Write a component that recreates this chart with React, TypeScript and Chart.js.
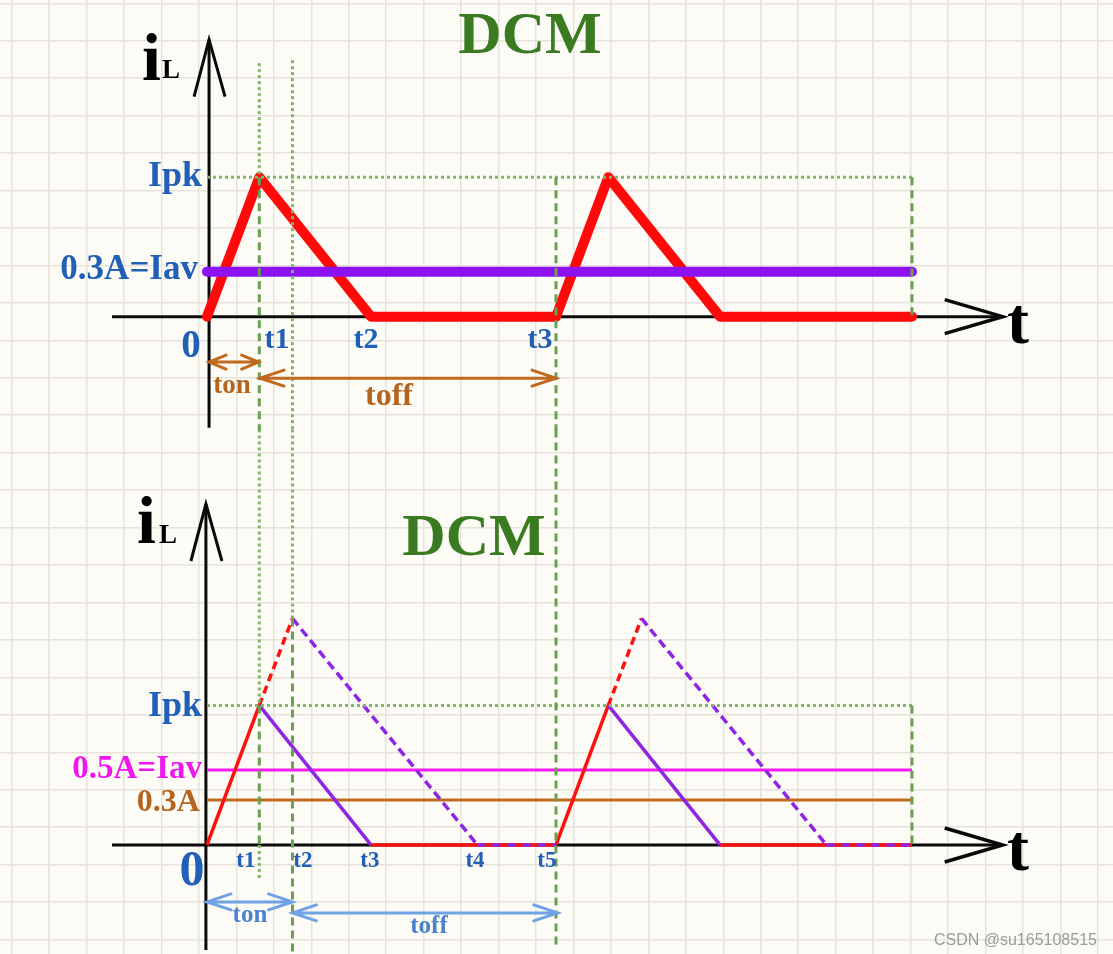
import React, { useEffect, useRef } from 'react';
import { Chart, registerables } from 'chart.js';

Chart.register(...registerables);

// ---------- axis ranges (time in normalised units, period = 10; current in A) ----------
const X_RANGE = [-5.93, 25.96];
const Y_TOP_RANGE = [-4.249, 2.111];
const Y_BOT_RANGE = [-0.727, 5.633];
const GRID_X_RANGE = [-0.3124, 29.407];
const GRID_Y_RANGE = [-0.0881, 25.386];

// ---------- top panel (DCM, Iav = 0.3A) ----------
const topWaveT = [0, 1.5, 4.7, 10, 11.5, 14.7, 20.2];
const topWaveI = [0, 0.93, 0, 0, 0.93, 0, 0];
const topIavT = [0, 20.2];
const topIavI = [0.3, 0.3];
const topIpkT = [0, 20.2];
const topIpkI = [0.93, 0.93];

// ---------- bottom panel (DCM, Iav = 0.5A) ----------
const botRiseT = [0, 1.5, null, 10, 11.5];
const botRiseI = [0, 0.93, null, 0, 0.93];
const botRiseExtT = [1.5, 2.45, null, 11.5, 12.45];
const botRiseExtI = [0.93, 1.51, null, 0.93, 1.51];
const botFallT = [1.5, 4.7, null, 11.5, 14.7];
const botFallI = [0.93, 0, null, 0.93, 0];
const botFallExtT = [2.45, 7.75, null, 12.45, 17.75];
const botFallExtI = [1.51, 0, null, 1.51, 0];
const botIdleT = [4.7, 10, null, 14.7, 20.2];
const botIdleI = [0, 0, null, 0, 0];
const botIdleExtT = [7.75, 10, null, 17.75, 20.2];
const botIdleExtI = [0, 0, null, 0, 0];
const botIavT = [0, 20.2];
const botIavI = [0.5, 0.5];
const bot03T = [0, 20.2];
const bot03I = [0.3, 0.3];
const botIpkT = [0, 20.2];
const botIpkI = [0.93, 0.93];

// ---------- vertical guide lines: [t, from, to, axis, kind] ----------
const guides: [number, number, number, string, string][] = [
  [1.5, 1.69, 0.93, 'yTop', 'dot'],
  [1.5, 0.93, -0.76, 'yTop', 'dash'],
  [1.5, 2.77, 0.93, 'yBot', 'dot'],
  [1.5, 0.93, 0, 'yBot', 'dash'],
  [1.5, 0, -0.22, 'yBot', 'dot'],
  [2.45, 1.71, -0.76, 'yTop', 'dot'],
  [2.45, 2.77, 1.51, 'yBot', 'dot'],
  [2.45, 1.51, -0.73, 'yBot', 'dash'],
  [10, 0.93, -0.76, 'yTop', 'dash'],
  [10, 2.77, -0.67, 'yBot', 'dash'],
  [20.2, 0.93, 0, 'yTop', 'dash'],
  [20.2, 0.93, 0, 'yBot', 'dash'],
];

// ---------- axes: [axis, xFrom, xTo, yAxisAt, yFrom, yTo] ----------
const axesSpec: [string, number, number, number, number, number][] = [
  ['yTop', -2.72, 22.8, 0.06, -0.74, 1.847],
  ['yBot', -2.72, 22.8, -0.03, -0.7, 2.273],
];

// ---------- ton / toff spans: [tFrom, tTo, level, axis, kind] ----------
const spans: [number, number, number, string, string][] = [
  [0.06, 1.48, -0.303, 'yTop', 'brownSmall'],
  [1.52, 10.0, -0.41, 'yTop', 'brown'],
  [0.0, 2.45, -0.38, 'yBot', 'blue'],
  [2.45, 10.05, -0.453, 'yBot', 'blue'],
];

// ---------- text labels: [text, t, level, axis, style] ----------
const labels: [string, number, number, string, string][] = [
  ['DCM', 9.255, 1.757, 'yTop', 'title'],
  ['i', -1.862, 1.577, 'yTop', 'bigI'],
  ['L', -1.289, 1.59, 'yTop', 'subL'],
  ['Ipk', -0.143, 0.87, 'yTop', 'ipk'],
  ['0.3A=Iav', -0.258, 0.25, 'yTop', 'iavTop'],
  ['0', -0.458, -0.27, 'yTop', 'zeroTop'],
  ['t1', 2.006, -0.21, 'yTop', 'tTop'],
  ['t2', 4.556, -0.21, 'yTop', 'tTop'],
  ['t3', 9.54, -0.21, 'yTop', 'tTop'],
  ['ton', 0.716, -0.51, 'yTop', 'tonTop'],
  ['toff', 5.215, -0.59, 'yTop', 'toffTop'],
  ['t', 22.92, -0.177, 'yTop', 'tAxis'],
  ['DCM', 7.65, 1.933, 'yBot', 'title'],
  ['i', -2.006, 2.013, 'yBot', 'bigI'],
  ['L', -1.375, 2.013, 'yBot', 'subL'],
  ['Ipk', -0.143, 0.86, 'yBot', 'ipk'],
  ['0.5A=Iav', -0.143, 0.447, 'yBot', 'iavBot'],
  ['0.3A', -0.2, 0.227, 'yBot', 'i03'],
  ['0', -0.43, -0.267, 'yBot', 'zeroBot'],
  ['t1', 1.117, -0.147, 'yBot', 'tBot'],
  ['t2', 2.75, -0.147, 'yBot', 'tBot'],
  ['t3', 4.67, -0.147, 'yBot', 'tBot'],
  ['t4', 7.68, -0.147, 'yBot', 'tBot'],
  ['t5', 9.74, -0.147, 'yBot', 'tBot'],
  ['ton', 1.232, -0.513, 'yBot', 'tonBot'],
  ['toff', 6.361, -0.587, 'yBot', 'tonBot'],
  ['t', 22.92, -0.167, 'yBot', 'tAxis'],
  ['CSDN @su165108515', 25.5, -0.667, 'yBot', 'wm'],
];

const SERIF = '"Liberation Serif", "Times New Roman", serif';
const BLUE = '#2160b6';
const BROWN = '#b5641d';
const textStyles: Record<string, { font: string; color: string; align: CanvasTextAlign }> = {
  title: { font: `bold 60px ${SERIF}`, color: '#3a7b22', align: 'center' },
  bigI: { font: `bold 68px ${SERIF}`, color: '#000', align: 'left' },
  subL: { font: `bold 27px ${SERIF}`, color: '#000', align: 'left' },
  ipk: { font: `bold 36px ${SERIF}`, color: BLUE, align: 'right' },
  iavTop: { font: `bold 35px ${SERIF}`, color: BLUE, align: 'right' },
  zeroTop: { font: `bold 39px ${SERIF}`, color: BLUE, align: 'center' },
  tTop: { font: `bold 30px ${SERIF}`, color: BLUE, align: 'center' },
  tonTop: { font: `bold 27px ${SERIF}`, color: BROWN, align: 'center' },
  toffTop: { font: `bold 32px ${SERIF}`, color: BROWN, align: 'center' },
  tAxis: { font: `bold 66px ${SERIF}`, color: '#000', align: 'left' },
  iavBot: { font: `bold 33px ${SERIF}`, color: '#ee17ee', align: 'right' },
  i03: { font: `bold 32px ${SERIF}`, color: BROWN, align: 'right' },
  zeroBot: { font: `bold 50px ${SERIF}`, color: BLUE, align: 'center' },
  tBot: { font: `bold 23px ${SERIF}`, color: BLUE, align: 'center' },
  tonBot: { font: `bold 25px ${SERIF}`, color: '#4a82cc', align: 'center' },
  wm: { font: '16px "Liberation Sans", Arial, sans-serif', color: '#9a9a9a', align: 'right' },
};
const spanStyles: Record<string, { color: string; head: number; half: number }> = {
  brownSmall: { color: '#bf6a1f', head: 17, half: 7 },
  brown: { color: '#bf6a1f', head: 24, half: 8 },
  blue: { color: '#70a2e6', head: 24, half: 8 },
};

function buildDatasets() {
  const ds: any[] = [];
  const add = (ts: (number | null)[], is: (number | null)[], axis: string, style: any) => {
    let cur: { x: number; y: number }[] = [];
    const flush = () => {
      if (cur.length > 1) {
        ds.push({
          type: 'line',
          data: cur,
          yAxisID: axis,
          pointRadius: 0,
          pointHoverRadius: 0,
          fill: false,
          tension: 0,
          borderJoinStyle: 'miter',
          borderCapStyle: 'butt',
          ...style,
        });
      }
      cur = [];
    };
    ts.forEach((t, k) => {
      const v = is[k];
      if (t === null || v === null) flush();
      else cur.push({ x: t, y: v });
    });
    flush();
  };
  const dot = { borderColor: '#82b66a', borderWidth: 3, borderDash: [3, 3], order: 1 };
  const dash = { borderColor: '#69a052', borderWidth: 3, borderDash: [8, 5], order: 1 };

  guides.forEach(([t, a, b, axis, kind]) => add([t, t], [a, b], axis, kind === 'dot' ? dot : dash));
  add(topIpkT, topIpkI, 'yTop', dot);
  add(botIpkT, botIpkI, 'yBot', dot);

  // top
  add(topIavT, topIavI, 'yTop', { borderColor: '#8c12f4', borderWidth: 10, borderCapStyle: 'round', order: 2 });
  add(topWaveT, topWaveI, 'yTop', { borderColor: '#fe0a0a', borderWidth: 10, borderCapStyle: 'round', borderJoinStyle: 'round', order: 3 });

  // bottom
  add(botIdleExtT, botIdleExtI, 'yBot', { borderColor: '#8e24e6', borderWidth: 3.5, borderDash: [8, 7], order: 2 });
  add(botFallT, botFallI, 'yBot', { borderColor: '#8e24e6', borderWidth: 3.5, order: 3 });
  add(botFallExtT, botFallExtI, 'yBot', { borderColor: '#8e24e6', borderWidth: 3.5, borderDash: [9, 5], order: 3 });
  add(botRiseT, botRiseI, 'yBot', { borderColor: '#fe1010', borderWidth: 3.5, order: 4 });
  add(botRiseExtT, botRiseExtI, 'yBot', { borderColor: '#fe1010', borderWidth: 3.5, borderDash: [8, 5], order: 4 });
  add(botIdleT, botIdleI, 'yBot', { borderColor: '#fe1010', borderWidth: 3.5, order: 5 });
  add(botIavT, botIavI, 'yBot', { borderColor: '#f41af4', borderWidth: 3, order: 6 });
  add(bot03T, bot03I, 'yBot', { borderColor: '#c06a20', borderWidth: 3, order: 6 });
  return ds;
}

const diagramPlugin = {
  id: 'diagram',
  beforeDraw(chart: any) {
    const { ctx, width, height } = chart;
    ctx.save();
    ctx.fillStyle = '#fcfbf5';
    ctx.fillRect(0, 0, width, height);
    ctx.restore();
  },
  beforeDatasetsDraw(chart: any) {
    const { ctx } = chart;
    const sx = chart.scales.x;
    ctx.save();
    ctx.strokeStyle = '#0a0a0a';
    ctx.lineJoin = 'miter';
    axesSpec.forEach(([axis, x0, x1, ax, y0, y1]) => {
      const sy = chart.scales[axis];
      const yz = sy.getPixelForValue(0);
      const xa = sx.getPixelForValue(x0);
      const xb = sx.getPixelForValue(x1);
      ctx.lineWidth = 3;
      ctx.beginPath();
      ctx.moveTo(xa, yz);
      ctx.lineTo(xb, yz);
      ctx.stroke();
      ctx.lineWidth = 3.5;
      ctx.beginPath();
      ctx.moveTo(xb - 58, yz - 17);
      ctx.lineTo(xb, yz);
      ctx.lineTo(xb - 58, yz + 17);
      ctx.stroke();
      ctx.lineWidth = 3;
      const px = sx.getPixelForValue(ax);
      const ya = sy.getPixelForValue(y0);
      const yb = sy.getPixelForValue(y1);
      ctx.beginPath();
      ctx.moveTo(px, ya);
      ctx.lineTo(px, yb);
      ctx.stroke();
      ctx.beginPath();
      ctx.moveTo(px - 15, yb + 57);
      ctx.lineTo(px, yb);
      ctx.lineTo(px + 16, yb + 57);
      ctx.stroke();
    });
    ctx.restore();
  },
  afterDatasetsDraw(chart: any) {
    const { ctx } = chart;
    const sx = chart.scales.x;
    ctx.save();
    spans.forEach(([t0, t1, lv, axis, kind]) => {
      const st = spanStyles[kind];
      const sy = chart.scales[axis];
      const y = sy.getPixelForValue(lv);
      const a = sx.getPixelForValue(t0);
      const b = sx.getPixelForValue(t1);
      ctx.strokeStyle = st.color;
      ctx.lineWidth = 3;
      ctx.lineCap = 'round';
      ctx.lineJoin = 'miter';
      ctx.beginPath();
      ctx.moveTo(a, y);
      ctx.lineTo(b, y);
      ctx.moveTo(a + st.head, y - st.half);
      ctx.lineTo(a, y);
      ctx.lineTo(a + st.head, y + st.half);
      ctx.moveTo(b - st.head, y - st.half);
      ctx.lineTo(b, y);
      ctx.lineTo(b - st.head, y + st.half);
      ctx.stroke();
    });
    ctx.textBaseline = 'alphabetic';
    labels.forEach(([text, t, lv, axis, style]) => {
      const st = textStyles[style];
      const sy = chart.scales[axis];
      ctx.font = st.font;
      ctx.fillStyle = st.color;
      ctx.textAlign = st.align;
      ctx.fillText(text, sx.getPixelForValue(t), sy.getPixelForValue(lv));
    });
    ctx.restore();
  },
};

export default function App() {
  const ref = useRef<HTMLCanvasElement | null>(null);
  useEffect(() => {
    if (!ref.current) return;
    const chart = new Chart(ref.current, {
      type: 'line',
      data: { datasets: buildDatasets() },
      options: {
        animation: false,
        responsive: false,
        devicePixelRatio: 1,
        events: [],
        layout: { padding: 0, autoPadding: false },
        plugins: { legend: { display: false }, tooltip: { enabled: false } },
        scales: {
          x: { type: 'linear', min: X_RANGE[0], max: X_RANGE[1], display: false },
          yTop: { type: 'linear', position: 'left', min: Y_TOP_RANGE[0], max: Y_TOP_RANGE[1], display: false },
          yBot: { type: 'linear', position: 'left', min: Y_BOT_RANGE[0], max: Y_BOT_RANGE[1], display: false },
          gx: {
            type: 'linear',
            position: 'top',
            min: GRID_X_RANGE[0],
            max: GRID_X_RANGE[1],
            ticks: { display: false, stepSize: 1, includeBounds: false },
            grid: { color: '#e6e3db', lineWidth: 1.5, drawTicks: false },
            border: { display: false },
          },
          gy: {
            type: 'linear',
            position: 'left',
            reverse: true,
            min: GRID_Y_RANGE[0],
            max: GRID_Y_RANGE[1],
            ticks: { display: false, stepSize: 1, includeBounds: false },
            grid: { color: '#e6e3db', lineWidth: 1.5, drawTicks: false },
            border: { display: false },
          },
        },
      },
      plugins: [diagramPlugin],
    } as any);
    return () => chart.destroy();
  }, []);
  return (
    <div style={{ position: 'fixed', left: 0, top: 0, width: 1113, height: 954 }}>
      <canvas ref={ref} width={1113} height={954} style={{ display: 'block' }} />
    </div>
  );
}
